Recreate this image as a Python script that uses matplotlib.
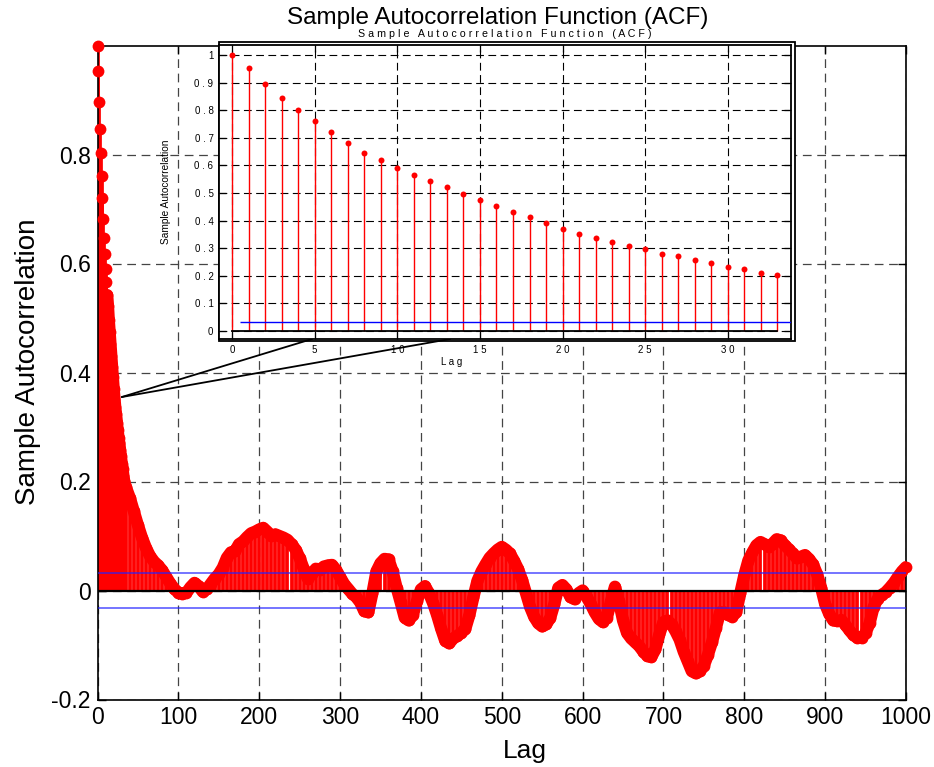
import numpy as np
import matplotlib
matplotlib.use('Agg')
import matplotlib.pyplot as plt
from matplotlib import font_manager
from matplotlib.patches import ConnectionPatch, Rectangle

plt.rcParams['font.family'] = ['Liberation Sans', 'DejaVu Sans']

# ACF values, lags 0..33
inset_lags = np.arange(0, 34)
inset_acf = [1.000, 0.953, 0.897, 0.846, 0.802, 0.761, 0.721, 0.681, 0.646, 0.618,
             0.590, 0.566, 0.542, 0.522, 0.496, 0.475, 0.453, 0.431, 0.411, 0.392,
             0.370, 0.352, 0.336, 0.323, 0.308, 0.295, 0.280, 0.271, 0.257, 0.246,
             0.233, 0.223, 0.211, 0.201]

# ACF values read every 5 lags, lags 35..1000
tail_lags = np.arange(35, 1001, 5)
tail_acf = [0.190, 0.170, 0.145, 0.120, 0.097, 0.078, 0.063, 0.053, 0.046, 0.037,
            0.025, 0.013, 0.003, -0.004, -0.006, -0.004, 0.006, 0.014, 0.008, -0.002,
            0.002, 0.012, 0.022, 0.030, 0.042, 0.060, 0.070, 0.072, 0.085, 0.090,
            0.098, 0.105, 0.108, 0.112, 0.115, 0.108, 0.100, 0.103, 0.100, 0.097,
            0.093, 0.085, 0.075, 0.060, 0.040, 0.022, 0.030, 0.040, 0.038, 0.044,
            0.046, 0.047, 0.038, 0.025, 0.012, 0.003, -0.006, -0.012, -0.022, -0.038,
            -0.040, -0.005, 0.035, 0.050, 0.058, 0.057, 0.035, 0.005, -0.022, -0.050,
            -0.055, -0.045, -0.020, 0.002, 0.008, -0.005, -0.023, -0.045, -0.070, -0.092,
            -0.097, -0.088, -0.083, -0.078, -0.070, -0.045, -0.012, 0.018, 0.035, 0.048,
            0.060, 0.068, 0.075, 0.080, 0.075, 0.068, 0.055, 0.040, 0.020, -0.005,
            -0.030, -0.048, -0.060, -0.066, -0.062, -0.050, -0.025, 0.005, 0.010, 0.002,
            -0.012, -0.016, -0.005, 0.000, -0.012, -0.025, -0.040, -0.052, -0.058, -0.050,
            -0.020, 0.007, -0.020, -0.055, -0.078, -0.088, -0.095, -0.102, -0.112, -0.120,
            -0.122, -0.108, -0.080, -0.058, -0.055, -0.062, -0.075, -0.090, -0.112, -0.130,
            -0.148, -0.152, -0.148, -0.138, -0.118, -0.095, -0.068, -0.040, -0.040, -0.045,
            -0.048, -0.040, -0.005, 0.028, 0.055, 0.070, 0.083, 0.089, 0.085, 0.080,
            0.086, 0.094, 0.092, 0.083, 0.076, 0.068, 0.059, 0.062, 0.065, 0.058,
            0.048, 0.030, 0.005, -0.025, -0.043, -0.055, -0.056, -0.054, -0.063, -0.073,
            -0.082, -0.087, -0.087, -0.078, -0.060, -0.030, -0.015, -0.008, -0.003, 0.005,
            0.014, 0.025, 0.035, 0.043]

conf_bound = 0.033

main_xticks = [0, 100, 200, 300, 400, 500, 600, 700, 800, 900, 1000]
main_xticklabels = ['0', '100', '200', '300', '400', '500', '600', '700', '800', '900', '1000']
main_yticks = [-0.2, 0, 0.2, 0.4, 0.6, 0.8]
main_yticklabels = ['-0.2', '0', '0.2', '0.4', '0.6', '0.8']

inset_xticks = [0, 5, 10, 15, 20, 25, 30]
inset_xticklabels = ['0', '5', '1 0', '1 5', '2 0', '2 5', '3 0']
inset_yticks = [0, 0.1, 0.2, 0.3, 0.4, 0.5, 0.6, 0.7, 0.8, 0.9, 1.0]
inset_yticklabels = ['0', '0 . 1', '0 . 2', '0 . 3', '0 . 4', '0 . 5',
                     '0 . 6', '0 . 7', '0 . 8', '0 . 9', '1']

lags = np.concatenate([inset_lags, tail_lags])
acf = np.concatenate([inset_acf, tail_acf])

installed = {f.name for f in font_manager.fontManager.ttflist}
narrow = 'Liberation Sans Narrow' if 'Liberation Sans Narrow' in installed else 'Liberation Sans'

W, H = 934, 767
fig = plt.figure(figsize=(W / 100, H / 100), dpi=100)

# ---- main axes ----
ax = fig.add_axes([97.5 / W, 1 - 699.5 / H, 808.5 / W, 654 / H])
ax.grid(True, color='#444444', linestyle=(0, (7, 4.5)), linewidth=0.9)
ax.set_axisbelow(True)

ml, sl, bl = ax.stem(lags, acf, basefmt='k-')
plt.setp(sl, color='red', linewidth=2.7, zorder=2)
plt.setp(ml, color='red', marker='o', markersize=8.5, markeredgewidth=0, zorder=3, clip_on=False)
plt.setp(bl, color='black', linewidth=1.6, zorder=5)
# dense markers merge into a continuous band once they overlap
band = lags >= 12
ax.plot(lags[band], acf[band], color='red', linewidth=8.8, solid_capstyle='round',
        solid_joinstyle='round', zorder=3)
ax.hlines([conf_bound, -conf_bound], 0.5, 1000.5, colors='#2222ff', linewidth=1.1,
          alpha=0.8, zorder=4)

ax.set_xlim(0, 1000)
ax.set_ylim(-0.2, 1.0)
ax.set_xticks(main_xticks)
ax.set_xticklabels(main_xticklabels, fontfamily=narrow, fontsize=16.5)
ax.set_yticks(main_yticks)
ax.set_yticklabels(main_yticklabels, fontsize=16.5)
ax.tick_params(direction='in', top=True, right=True, length=6, width=1, pad=5)
for s in ax.spines.values():
    s.set_linewidth(1.2)
ax.set_xlabel('Lag', fontsize=19)
ax.xaxis.set_label_coords(0.529, -0.060)
ax.set_ylabel('Sample Autocorrelation', fontsize=20)
ax.yaxis.set_label_coords(-0.070, 0.516)

fig.text(0.533, 1 - 24 / H, 'Sample Autocorrelation Function (ACF)',
         ha='center', va='baseline', fontsize=17.5)

# ---- inset frame (double border) ----
frame = Rectangle((219 / W, 1 - 341 / H), 576 / W, 299 / H, transform=fig.transFigure,
                  facecolor='white', edgecolor='black', linewidth=1.3, zorder=1)
fig.add_artist(frame)

# ---- inset axes ----
axin = fig.add_axes([219 / W, 1 - 339 / H, 572 / W, 294 / H])
axin.set_zorder(2)
axin.grid(True, color='black', linestyle=(0, (7, 4)), linewidth=0.8)
axin.set_axisbelow(True)
ml2, sl2, bl2 = axin.stem(inset_lags, inset_acf, basefmt='k-')
plt.setp(sl2, color='red', linewidth=1.0, zorder=2)
plt.setp(ml2, color='red', marker='o', markersize=4.3, markeredgewidth=0, zorder=3)
plt.setp(bl2, color='black', linewidth=1.3, zorder=5)
axin.hlines(conf_bound, 0.5, 34, colors='blue', linewidth=1.0, zorder=4)
axin.set_xlim(-0.79, 33.82)
axin.set_ylim(-0.03, 1.037)
axin.set_xticks(inset_xticks)
axin.set_xticklabels(inset_xticklabels)
axin.set_yticks(inset_yticks)
axin.set_yticklabels(inset_yticklabels)
axin.tick_params(direction='in', top=True, right=True, length=5, width=0.9,
                 labelsize=7, pad=4)
for s in axin.spines.values():
    s.set_linewidth(1.3)
axin.set_title('S a m p l e   A u t o c o r r e l a t i o n   F u n c t i o n   ( A C F )',
               fontsize=7.7, pad=6)
axin.set_xlabel('L a g', fontsize=7)
axin.xaxis.set_label_coords(0.407, -0.061)
axin.set_ylabel('Sample Autocorrelation', fontsize=7.3)
axin.yaxis.set_label_coords(-0.084, 0.5)

# ---- zoom connector lines ----
for xb in (4.84, 13.19):
    con = ConnectionPatch(xyA=(30, 0.355), coordsA=ax.transData,
                          xyB=(xb, -0.03), coordsB=axin.transData,
                          color='black', linewidth=1.3)
    fig.add_artist(con)

fig.savefig('out.png', dpi=100)
